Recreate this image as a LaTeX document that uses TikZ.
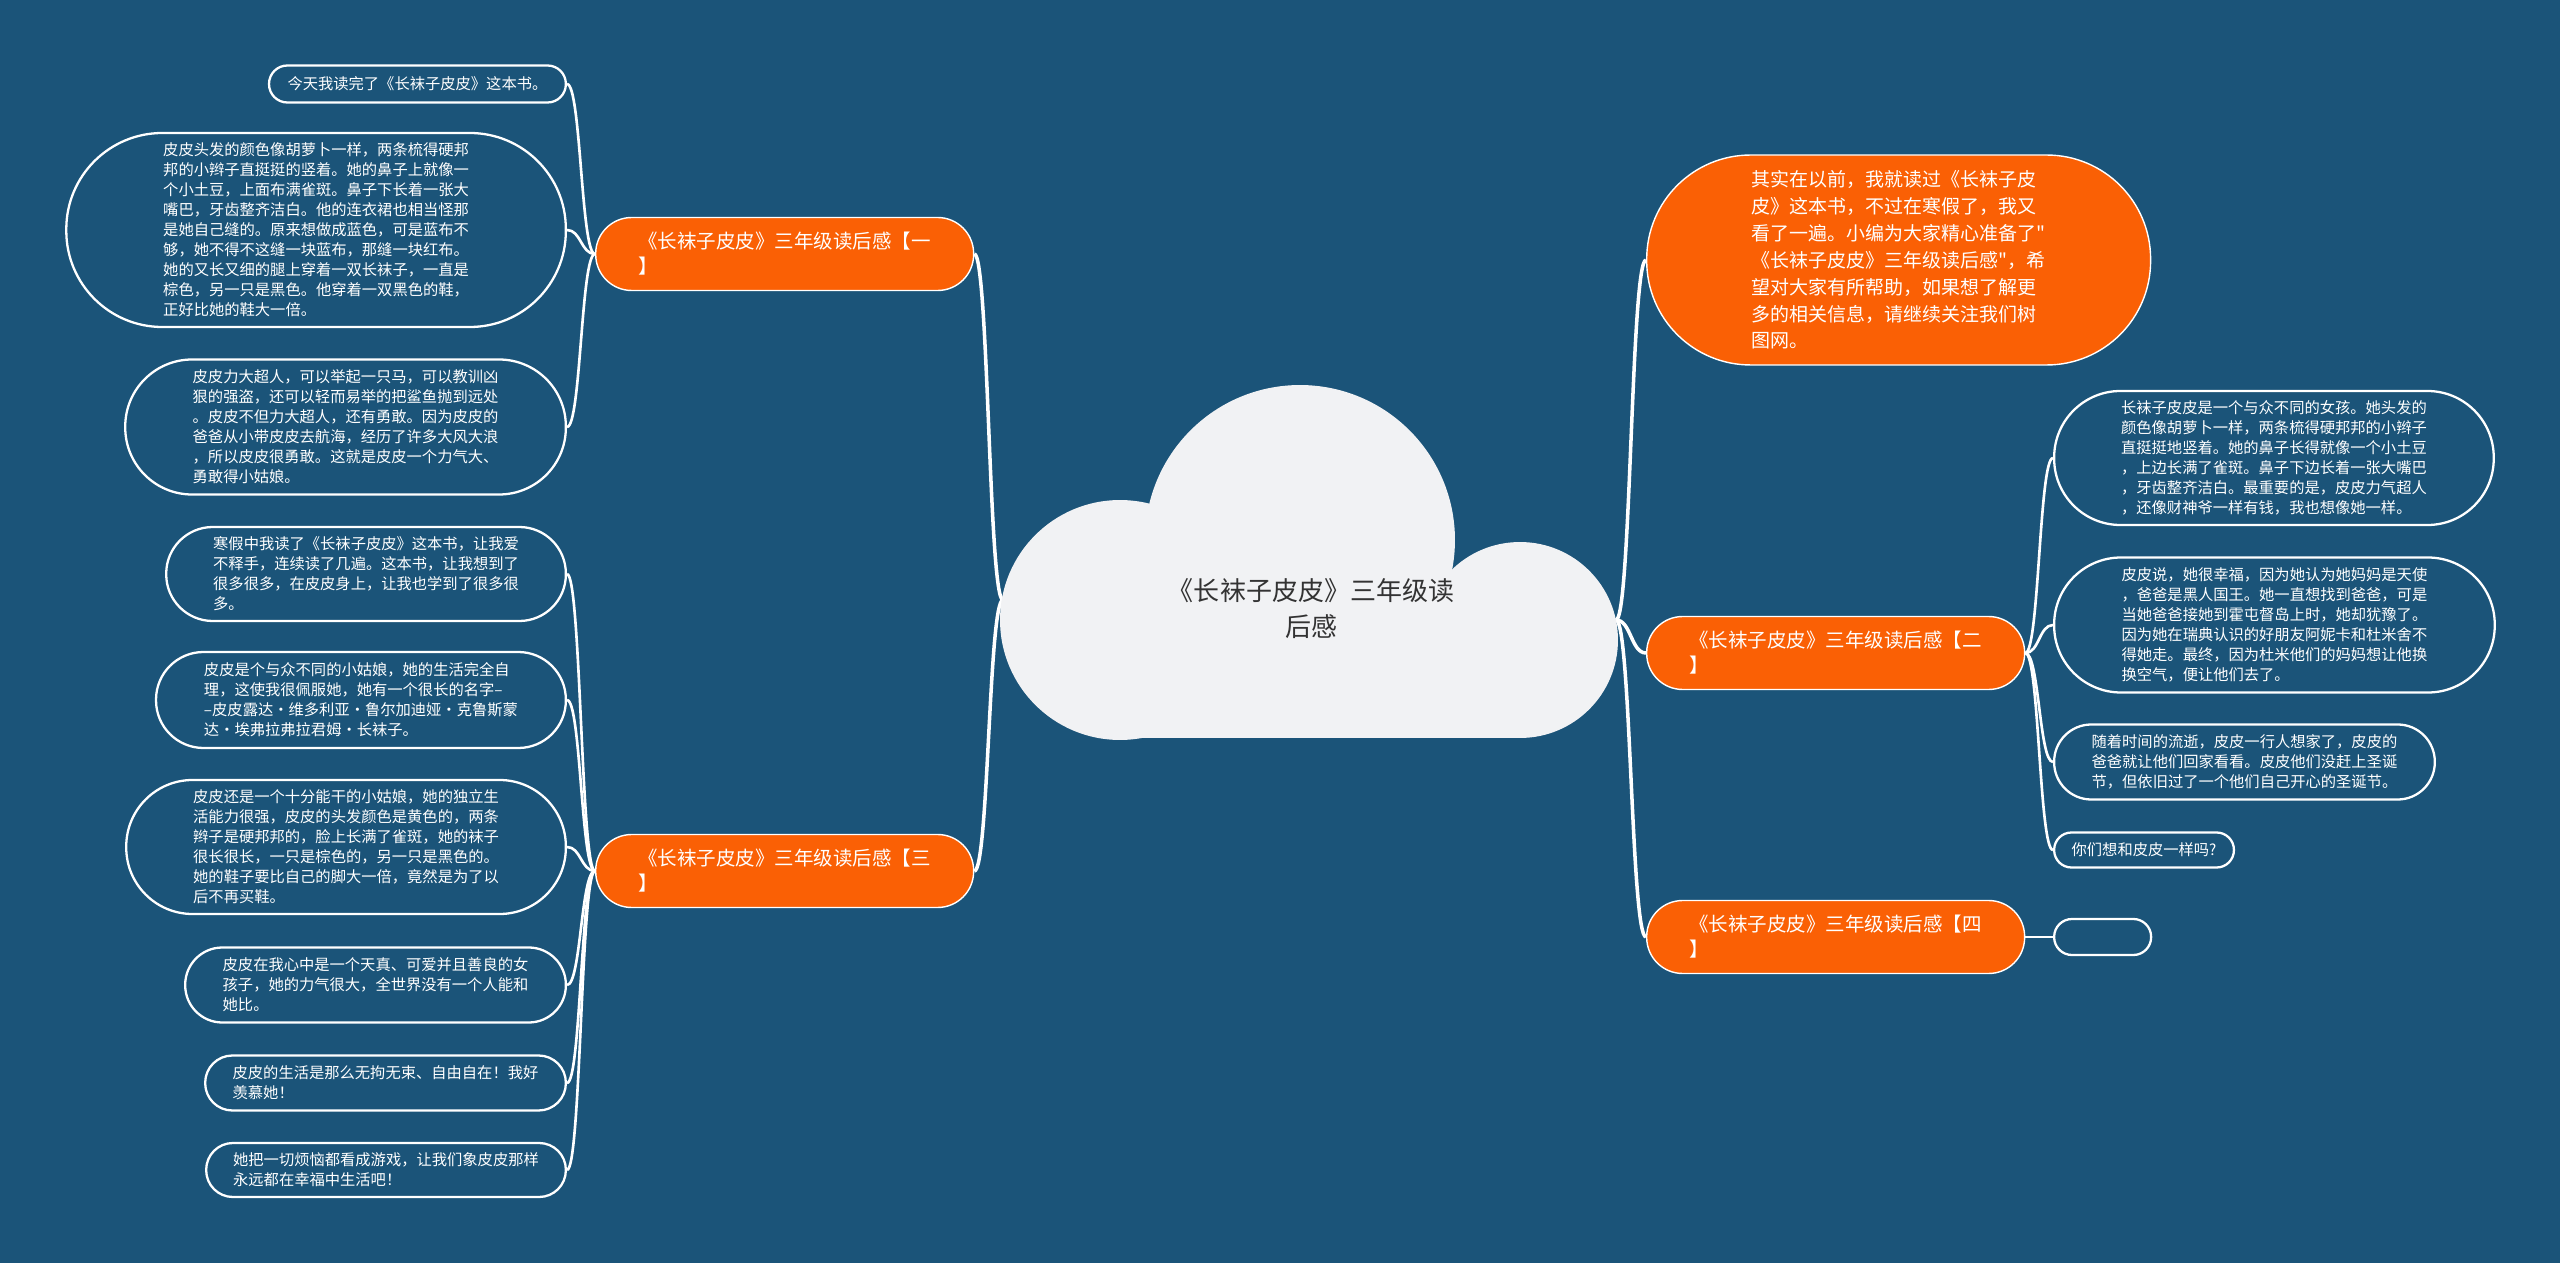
\documentclass[tikz,border=0pt]{standalone}
\usepackage{fontspec}
\newfontfamily\cjk{Noto Sans CJK SC}
\usepackage{tikz}
\usetikzlibrary{calc}
\definecolor{bgblue}{RGB}{27,84,121}
\definecolor{maporange}{RGB}{250,96,5}
\definecolor{cloudgrey}{RGB}{241,242,244}
\definecolor{cloudtext}{RGB}{51,51,51}

\begin{document}
\begin{tikzpicture}[x=0.02cm, y=-0.02cm,
  leaf/.style={rectangle, draw=white, line width=1.3pt, text=white,
    font=\cjk\fontsize{8.7pt}{11.4pt}\selectfont, align=left,
    minimum height=#1*0.02cm, rounded corners=#1*0.0099cm,
    inner xsep=#1*0.01cm, inner ysep=0pt},
  branch/.style={rectangle, draw=white, line width=0.8pt, fill=maporange,
    text=white, font=\cjk\fontsize{11.1pt}{14.2pt}\selectfont, align=left,
    minimum width=7.56cm, minimum height=1.46cm, rounded corners=0.72cm},
  link/.style={draw=white, line width=1.5pt,
    to path={.. controls ($(\tikztostart)!0.5!(\tikztostart -| \tikztotarget)$)
      and ($(\tikztotarget)!0.5!(\tikztotarget -| \tikztostart)$) .. (\tikztotarget)}}]

  % background
  \fill[bgblue] (0,0) rectangle (2560,1263);
  \coordinate (cl) at (1003,600);
  \coordinate (cr) at (1616,620);

  % main branches
  \node[branch, anchor=west] (b1) at (595,254) {《长袜子皮皮》三年级读后感【一\\】};
  \node[branch, anchor=west] (b3) at (595,871) {《长袜子皮皮》三年级读后感【三\\】};
  \node[branch, anchor=west] (b2) at (1646,653) {《长袜子皮皮》三年级读后感【二\\】};
  \node[branch, anchor=west] (b4) at (1646,937) {《长袜子皮皮》三年级读后感【四\\】};
  \node[branch, anchor=west, minimum width=10.08cm, minimum height=4.2cm,
    rounded corners=2.08cm, font=\cjk\fontsize{10.8pt}{15.3pt}\selectfont]
    (intro) at (1646,260)
    {其实在以前，我就读过《长袜子皮\\皮》这本书，不过在寒假了，我又\\看了一遍。小编为大家精心准备了"\\《长袜子皮皮》三年级读后感"，希\\望对大家有所帮助，如果想了解更\\多的相关信息，请继续关注我们树\\图网。};

  % leaves of branch one
  \node[leaf=37, anchor=east] (l1) at (567,84) {今天我读完了《长袜子皮皮》这本书。};
  \node[leaf=194, anchor=east] (l2) at (567,230) {皮皮头发的颜色像胡萝卜一样，两条梳得硬邦\\邦的小辫子直挺挺的竖着。她的鼻子上就像一\\个小土豆，上面布满雀斑。鼻子下长着一张大\\嘴巴，牙齿整齐洁白。他的连衣裙也相当怪那\\是她自己缝的。原来想做成蓝色，可是蓝布不\\够，她不得不这缝一块蓝布，那缝一块红布。\\她的又长又细的腿上穿着一双长袜子，一直是\\棕色，另一只是黑色。他穿着一双黑色的鞋，\\正好比她的鞋大一倍。};
  \node[leaf=135, anchor=east] (l3) at (567,427) {皮皮力大超人，可以举起一只马，可以教训凶\\狠的强盗，还可以轻而易举的把鲨鱼抛到远处\\。皮皮不但力大超人，还有勇敢。因为皮皮的\\爸爸从小带皮皮去航海，经历了许多大风大浪\\，所以皮皮很勇敢。这就是皮皮一个力气大、\\勇敢得小姑娘。};

  % leaves of branch three
  \node[leaf=94, anchor=east] (l4) at (567,574) {寒假中我读了《长袜子皮皮》这本书，让我爱\\不释手，连续读了几遍。这本书，让我想到了\\很多很多，在皮皮身上，让我也学到了很多很\\多。};
  \node[leaf=96, anchor=east] (l5) at (567,700) {皮皮是个与众不同的小姑娘，她的生活完全自\\理，这使我很佩服她，她有一个很长的名字–\\–皮皮露达·维多利亚·鲁尔加迪娅·克鲁斯蒙\\达·埃弗拉弗拉君姆·长袜子。};
  \node[leaf=134, anchor=east] (l6) at (567,847) {皮皮还是一个十分能干的小姑娘，她的独立生\\活能力很强，皮皮的头发颜色是黄色的，两条\\辫子是硬邦邦的，脸上长满了雀斑，她的袜子\\很长很长，一只是棕色的，另一只是黑色的。\\她的鞋子要比自己的脚大一倍，竟然是为了以\\后不再买鞋。};
  \node[leaf=75, anchor=east] (l7) at (567,985) {皮皮在我心中是一个天真、可爱并且善良的女\\孩子，她的力气很大，全世界没有一个人能和\\她比。};
  \node[leaf=55, anchor=east] (l8) at (567,1083) {皮皮的生活是那么无拘无束、自由自在！我好\\羡慕她！};
  \node[leaf=54, anchor=east] (l9) at (567,1170) {她把一切烦恼都看成游戏，让我们象皮皮那样\\永远都在幸福中生活吧！};

  % leaves of branch two and four
  \node[leaf=134, anchor=west] (r1) at (2053,458) {长袜子皮皮是一个与众不同的女孩。她头发的\\颜色像胡萝卜一样，两条梳得硬邦邦的小辫子\\直挺挺地竖着。她的鼻子长得就像一个小土豆\\，上边长满了雀斑。鼻子下边长着一张大嘴巴\\，牙齿整齐洁白。最重要的是，皮皮力气超人\\，还像财神爷一样有钱，我也想像她一样。};
  \node[leaf=135, anchor=west] (r2) at (2053,625) {皮皮说，她很幸福，因为她认为她妈妈是天使\\，爸爸是黑人国王。她一直想找到爸爸，可是\\当她爸爸接她到霍屯督岛上时，她却犹豫了。\\因为她在瑞典认识的好朋友阿妮卡和杜米舍不\\得她走。最终，因为杜米他们的妈妈想让他换\\换空气，便让他们去了。};
  \node[leaf=75, anchor=west] (r3) at (2053,762) {随着时间的流逝，皮皮一行人想家了，皮皮的\\爸爸就让他们回家看看。皮皮他们没赶上圣诞\\节，但依旧过了一个他们自己开心的圣诞节。};
  \node[leaf=35, anchor=west] (r4) at (2053,850) {你们想和皮皮一样吗?};
  \node[leaf=36, anchor=west, minimum width=1.94cm] (r5) at (2053,937) {};

  % connectors
  \draw[link, line width=2pt] (cl) to (b1.east);
  \draw[link, line width=2pt] (cl) to (b3.east);
  \draw[link, line width=2pt] (cr) to (intro.west);
  \draw[link, line width=2pt] (cr) to (b2.west);
  \draw[link, line width=2pt] (cr) to (b4.west);
  \foreach \leafname in {l1,l2,l3}
    \draw[link] (b1.west) to (\leafname.east);
  \foreach \leafname in {l4,l5,l6,l7,l8,l9}
    \draw[link] (b3.west) to (\leafname.east);
  \foreach \leafname in {r1,r2,r3,r4}
    \draw[link] (b2.east) to (\leafname.west);
  \draw[link] (b4.east) to (r5.west);

  % central cloud
  \fill[cloudgrey] (1120,620) circle[radius=2.4cm];
  \fill[cloudgrey] (1300,540) circle[radius=3.1cm];
  \fill[cloudgrey] (1520,640) circle[radius=1.96cm];
  \fill[cloudgrey] (1120,600) rectangle (1520,738);
  \node[font=\cjk\fontsize{14.8pt}{20.5pt}\selectfont, text=cloudtext, align=center]
    (hub) at (1311,609) {《长袜子皮皮》三年级读\\后感};
\end{tikzpicture}
\end{document}
